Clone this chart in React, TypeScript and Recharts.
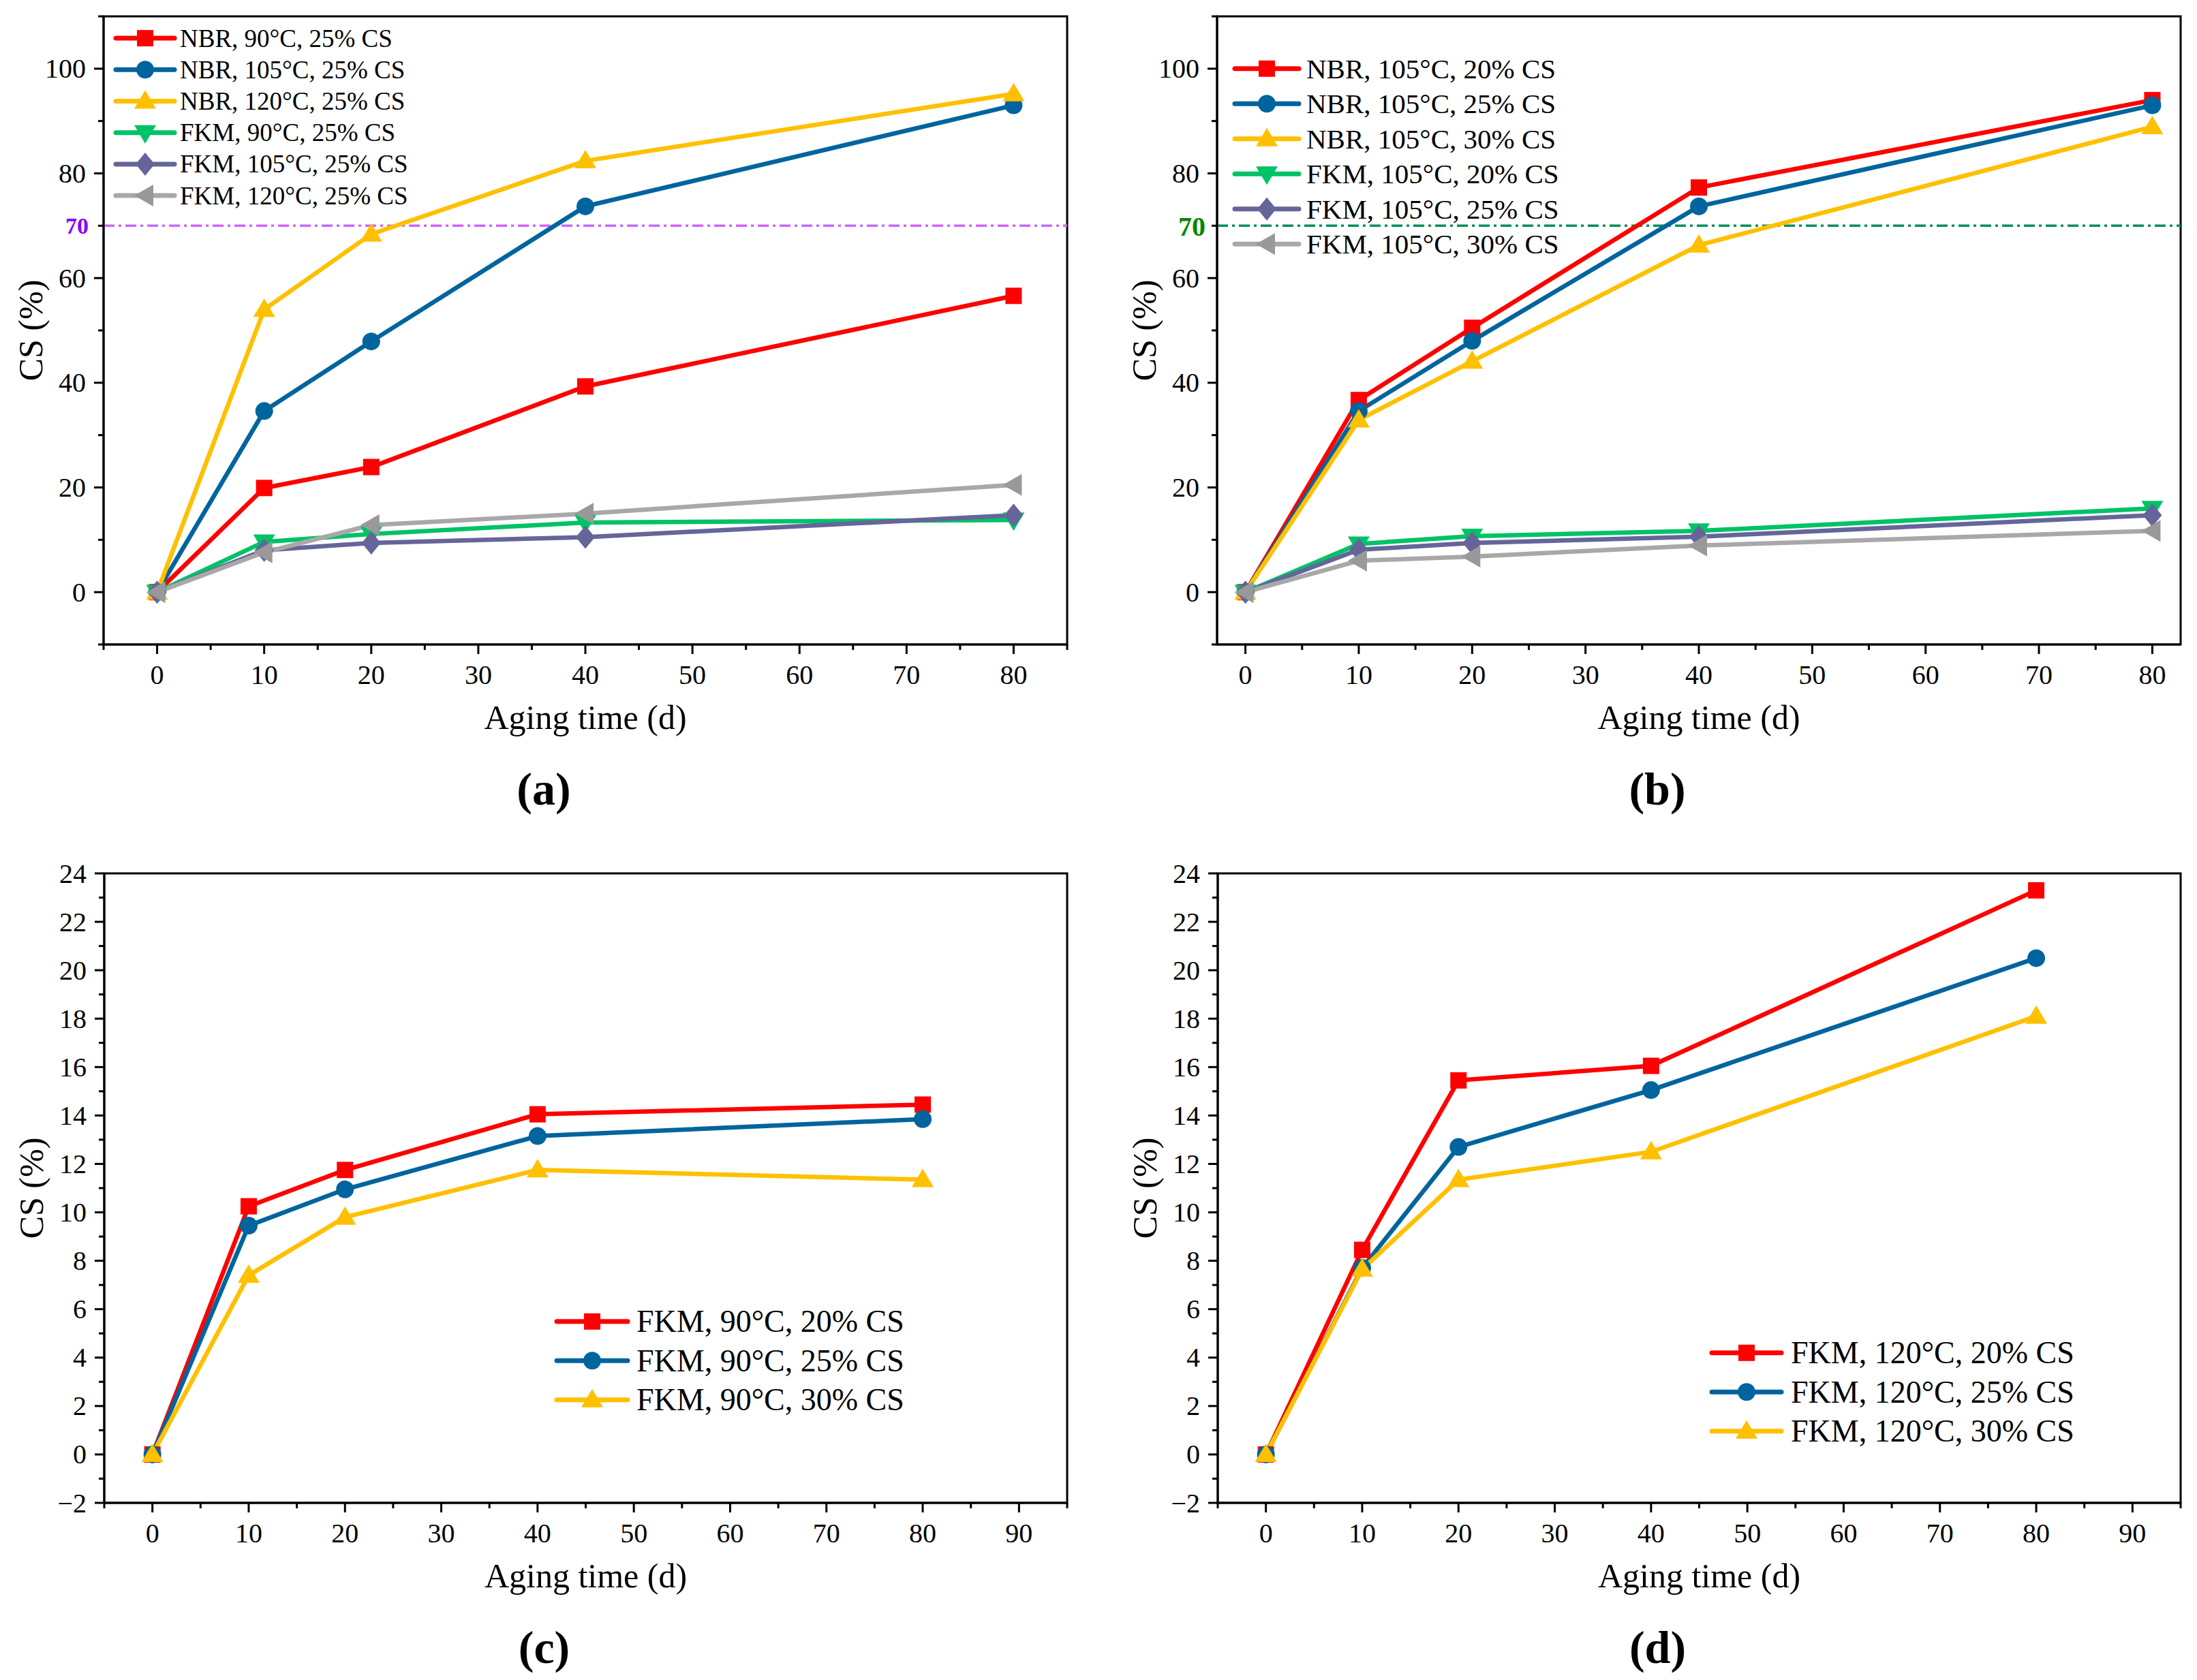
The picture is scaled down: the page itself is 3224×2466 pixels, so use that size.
import {
  LineChart,
  Line,
  XAxis,
  YAxis,
  ReferenceLine,
  ReferenceArea,
  Legend,
  Label,
} from 'recharts';

const FONT = '"Liberation Serif", "Times New Roman", serif';

// aging time (d)
const DAYS = [0, 10, 20, 40, 80];

// (a) 25% CS at different temperatures
const A_NBR_90 = [0, 19.9, 23.9, 39.3, 56.6];
const A_NBR_105 = [0, 34.6, 47.9, 73.7, 93.0];
const A_NBR_120 = [0, 54.0, 68.4, 82.4, 95.2];
const A_FKM_90 = [0, 9.6, 11.1, 13.3, 13.8];
const A_FKM_105 = [0, 8.0, 9.4, 10.5, 14.7];
const A_FKM_120 = [0, 7.6, 12.8, 15.0, 20.5];
const A_NAMES = [
  'NBR, 90°C, 25% CS',
  'NBR, 105°C, 25% CS',
  'NBR, 120°C, 25% CS',
  'FKM, 90°C, 25% CS',
  'FKM, 105°C, 25% CS',
  'FKM, 120°C, 25% CS',
];

// (b) 105°C at different compression ratios
const B_NBR_20 = [0, 36.7, 50.5, 77.3, 94.0];
const B_NBR_25 = [0, 34.6, 48.0, 73.7, 93.0];
const B_NBR_30 = [0, 32.9, 44.1, 66.3, 88.9];
const B_FKM_20 = [0, 9.2, 10.7, 11.7, 16.0];
const B_FKM_25 = [0, 8.1, 9.4, 10.6, 14.7];
const B_FKM_30 = [0, 6.0, 6.8, 8.9, 11.7];
const B_NAMES = [
  'NBR, 105°C, 20% CS',
  'NBR, 105°C, 25% CS',
  'NBR, 105°C, 30% CS',
  'FKM, 105°C, 20% CS',
  'FKM, 105°C, 25% CS',
  'FKM, 105°C, 30% CS',
];

// (c) FKM 90°C
const C_20 = [0, 10.25, 11.75, 14.05, 14.45];
const C_25 = [0, 9.45, 10.95, 13.15, 13.85];
const C_30 = [0, 7.4, 9.8, 11.75, 11.35];
const C_NAMES = ['FKM, 90°C, 20% CS', 'FKM, 90°C, 25% CS', 'FKM, 90°C, 30% CS'];

// (d) FKM 120°C
const D_20 = [0, 8.45, 15.45, 16.05, 23.3];
const D_25 = [0, 7.7, 12.7, 15.05, 20.5];
const D_30 = [0, 7.65, 11.35, 12.5, 18.1];
const D_NAMES = ['FKM, 120°C, 20% CS', 'FKM, 120°C, 25% CS', 'FKM, 120°C, 30% CS'];

// axis ticks
const X_TICKS_AB = [-5, 0, 5, 10, 15, 20, 25, 30, 35, 40, 45, 50, 55, 60, 65, 70, 75, 80, 85];
const X_TICKS_B = [0, 5, 10, 15, 20, 25, 30, 35, 40, 45, 50, 55, 60, 65, 70, 75, 80];
const X_LABELS_AB = [0, 10, 20, 30, 40, 50, 60, 70, 80];
const X_TICKS_CD = [-5, 0, 5, 10, 15, 20, 25, 30, 35, 40, 45, 50, 55, 60, 65, 70, 75, 80, 85, 90, 95];
const X_LABELS_CD = [0, 10, 20, 30, 40, 50, 60, 70, 80, 90];
const Y_TICKS_AB = [-10, 0, 10, 20, 30, 40, 50, 60, 70, 80, 90, 100, 110];
const Y_LABELS_AB = [0, 20, 40, 60, 80, 100];
const Y_TICKS_CD = [-2, -1, 0, 1, 2, 3, 4, 5, 6, 7, 8, 9, 10, 11, 12, 13, 14, 15, 16, 17, 18, 19, 20, 21, 22, 23, 24];
const Y_LABELS_CD = [-2, 0, 2, 4, 6, 8, 10, 12, 14, 16, 18, 20, 22, 24];

const RED = '#FF0000';
const BLUE = '#00649E';
const YELLOW = '#FFC000';
const GREEN = '#00C266';
const PURPLE = '#65659A';
const GREY = '#A8A8A8';

type Shape = 'square' | 'circle' | 'up' | 'down' | 'diamond' | 'left';
type Series = { key: string; name: string; color: string; marker: string; shape: Shape; values: number[] };

const STYLES: { color: string; marker: string; shape: Shape }[] = [
  { color: RED, marker: RED, shape: 'square' },
  { color: BLUE, marker: BLUE, shape: 'circle' },
  { color: YELLOW, marker: YELLOW, shape: 'up' },
  { color: GREEN, marker: GREEN, shape: 'down' },
  { color: PURPLE, marker: PURPLE, shape: 'diamond' },
  { color: GREY, marker: '#999999', shape: 'left' },
];

function makeSeries(names: string[], values: number[][]): Series[] {
  return names.map((name, i) => ({ key: 's' + i, name, values: values[i], ...STYLES[i] }));
}

function makeRows(series: Series[]) {
  return DAYS.map((day, i) => {
    const row: Record<string, number> = { day };
    series.forEach((s) => (row[s.key] = s.values[i]));
    return row;
  });
}

function Marker({ shape, cx, cy, color }: { shape: Shape; cx: number; cy: number; color: string }) {
  switch (shape) {
    case 'square':
      return <rect x={cx - 12} y={cy - 12} width={24} height={24} fill={color} />;
    case 'circle':
      return <circle cx={cx} cy={cy} r={13} fill={color} />;
    case 'up':
      return <polygon points={`${cx},${cy - 16} ${cx + 16},${cy + 11} ${cx - 16},${cy + 11}`} fill={color} />;
    case 'down':
      return <polygon points={`${cx - 16},${cy - 11} ${cx + 16},${cy - 11} ${cx},${cy + 16}`} fill={color} />;
    case 'diamond':
      return <polygon points={`${cx},${cy - 17} ${cx + 14},${cy} ${cx},${cy + 17} ${cx - 14},${cy}`} fill={color} />;
    default:
      return <polygon points={`${cx - 16},${cy} ${cx + 12},${cy - 16} ${cx + 12},${cy + 16}`} fill={color} />;
  }
}

const fmt = (v: number) => (v < 0 ? '−' + Math.abs(v) : String(v));

const xTick = (labels: number[]) => (p: any) => {
  const v = p.payload.value;
  const major = labels.includes(v);
  return (
    <g key={'xt' + v}>
      <line x1={p.x} x2={p.x} y1={p.y} y2={p.y + (major ? 14 : 8)} stroke="#000" strokeWidth={3} />
      {major && (
        <text x={p.x} y={p.y + 44} textAnchor="middle" dominantBaseline="central" fontSize={40} fontFamily={FONT} fill="#000">
          {fmt(v)}
        </text>
      )}
    </g>
  );
};

const yTick = (labels: number[]) => (p: any) => {
  const v = p.payload.value;
  const major = labels.includes(v);
  return (
    <g key={'yt' + v}>
      <line x1={p.x} x2={p.x - (major ? 14 : 8)} y1={p.y} y2={p.y} stroke="#000" strokeWidth={3} />
      {major && (
        <text x={p.x - 26} y={p.y} textAnchor="end" dominantBaseline="central" fontSize={40} fontFamily={FONT} fill="#000">
          {fmt(v)}
        </text>
      )}
    </g>
  );
};

type LegendCfg = { left: number; firstY: number; rowH: number; lineLen: number; textX: number; fontSize: number };

function legendContent(series: Series[], cfg: LegendCfg) {
  return () => (
    <svg width={560} height={series.length * cfg.rowH} style={{ display: 'block', overflow: 'visible' }}>
      {series.map((s, i) => {
        const cy = cfg.rowH * (i + 0.5);
        return (
          <g key={s.key}>
            <line x1={3} x2={cfg.lineLen - 3} y1={cy} y2={cy} stroke={s.color} strokeWidth={7} strokeLinecap="round" />
            <Marker shape={s.shape} cx={cfg.lineLen / 2} cy={cy} color={s.marker} />
            <text x={cfg.textX} y={cy} dominantBaseline="central" fontSize={cfg.fontSize} fontFamily={FONT} fill="#000">
              {s.name}
            </text>
          </g>
        );
      })}
    </svg>
  );
}

type PanelProps = {
  left: number;
  top: number;
  letter: string;
  series: Series[];
  margin: { top: number; right: number; bottom: number; left: number };
  xDomain: [number, number];
  xTicks: number[];
  xLabels: number[];
  yDomain: [number, number];
  yTicks: number[];
  yLabels: number[];
  legend: LegendCfg;
  refLine?: { color: string; labelColor: string; fontSize: number; offset: number };
};

function Panel(props: PanelProps) {
  const { series, margin, legend } = props;
  const data = makeRows(series);
  return (
    <div style={{ position: 'absolute', left: props.left, top: props.top }}>
      <LineChart width={1612} height={1233} data={data} margin={margin}>
        <ReferenceArea
          x1={props.xDomain[0]}
          x2={props.xDomain[1]}
          y1={props.yDomain[0]}
          y2={props.yDomain[1]}
          fill="none"
          fillOpacity={0}
          stroke="#000"
          strokeWidth={3}
          strokeOpacity={1}
        />
        <XAxis
          type="number"
          dataKey="day"
          domain={props.xDomain}
          ticks={props.xTicks}
          interval={0}
          tickSize={0}
          tickMargin={0}
          tickLine={false}
          height={100}
          axisLine={{ stroke: '#000', strokeWidth: 3 }}
          tick={xTick(props.xLabels)}
        >
          <Label
            content={(p: any) => (
              <text
                x={p.viewBox.x + p.viewBox.width / 2}
                y={p.viewBox.y + 107}
                textAnchor="middle"
                dominantBaseline="central"
                fontSize={50}
                fontFamily={FONT}
                fill="#000"
              >
                Aging time (d)
              </text>
            )}
          />
          <Label
            content={(p: any) => (
              <text
                x={p.viewBox.x + p.viewBox.width / 2 - 61}
                y={p.viewBox.y + 212}
                textAnchor="middle"
                dominantBaseline="central"
                fontSize={68}
                fontWeight="bold"
                fontFamily={FONT}
                fill="#000"
              >
                {props.letter}
              </text>
            )}
          />
        </XAxis>
        <YAxis
          type="number"
          domain={props.yDomain}
          ticks={props.yTicks}
          interval={0}
          tickSize={0}
          tickMargin={0}
          tickLine={false}
          width={100}
          axisLine={{ stroke: '#000', strokeWidth: 3 }}
          tick={yTick(props.yLabels)}
        >
          <Label
            content={(p: any) => {
              const cx = p.viewBox.x + p.viewBox.width - 107;
              const cy = p.viewBox.y + p.viewBox.height / 2;
              return (
                <text
                  x={cx}
                  y={cy}
                  transform={`rotate(-90 ${cx} ${cy})`}
                  textAnchor="middle"
                  dominantBaseline="central"
                  fontSize={50}
                  fontFamily={FONT}
                  fill="#000"
                >
                  CS (%)
                </text>
              );
            }}
          />
        </YAxis>
        {props.refLine && (
          <ReferenceLine
            y={70}
            stroke={props.refLine.color}
            strokeWidth={3.5}
            strokeDasharray="16 6 4 6"
            label={{
              value: '70',
              position: 'left',
              offset: props.refLine.offset,
              fill: props.refLine.labelColor,
              fontSize: props.refLine.fontSize,
              fontWeight: 'bold',
              fontFamily: FONT,
            }}
          />
        )}
        {series.map((s) => (
          <Line
            key={s.key}
            type="linear"
            dataKey={s.key}
            name={s.name}
            stroke={s.color}
            strokeWidth={6.5}
            isAnimationActive={false}
            activeDot={false}
            dot={(p: any) => <Marker key={s.key + '-' + p.index} shape={s.shape} cx={p.cx} cy={p.cy} color={s.marker} />}
          />
        ))}
        <Legend
          layout="vertical"
          align="center"
          verticalAlign="middle"
          content={legendContent(series, legend)}
          wrapperStyle={{
            left: legend.left,
            top: legend.firstY - legend.rowH / 2,
            width: 560,
            height: series.length * legend.rowH,
          }}
        />
      </LineChart>
    </div>
  );
}

const SERIES_A = makeSeries(A_NAMES, [A_NBR_90, A_NBR_105, A_NBR_120, A_FKM_90, A_FKM_105, A_FKM_120]);
const SERIES_B = makeSeries(B_NAMES, [B_NBR_20, B_NBR_25, B_NBR_30, B_FKM_20, B_FKM_25, B_FKM_30]);
const SERIES_C = makeSeries(C_NAMES, [C_20, C_25, C_30]);
const SERIES_D = makeSeries(D_NAMES, [D_20, D_25, D_30]);

export default function App() {
  return (
    <div style={{ position: 'absolute', left: 0, top: 0, width: 3224, height: 2466, background: '#fff' }}>
      <Panel
        left={0}
        top={0}
        letter="(a)"
        series={SERIES_A}
        margin={{ top: 24, right: 46, bottom: 187, left: 52 }}
        xDomain={[-5, 85]}
        xTicks={X_TICKS_AB}
        xLabels={X_LABELS_AB}
        yDomain={[-10, 110]}
        yTicks={Y_TICKS_AB}
        yLabels={Y_LABELS_AB}
        legend={{ left: 167, firstY: 56, rowH: 46.2, lineLen: 92, textX: 97, fontSize: 37 }}
        refLine={{ color: '#CC66FF', labelColor: '#8800FF', fontSize: 34, offset: 22 }}
      />
      <Panel
        left={1612}
        top={0}
        letter="(b)"
        series={SERIES_B}
        margin={{ top: 24, right: 24, bottom: 187, left: 74 }}
        xDomain={[-2.5, 82.5]}
        xTicks={X_TICKS_B}
        xLabels={X_LABELS_AB}
        yDomain={[-10, 110]}
        yTicks={Y_TICKS_AB}
        yLabels={Y_LABELS_AB}
        legend={{ left: 197, firstY: 100.5, rowH: 51.5, lineLen: 100, textX: 108, fontSize: 41 }}
        refLine={{ color: '#00905A', labelColor: '#008800', fontSize: 40, offset: 17 }}
      />
      <Panel
        left={0}
        top={1233}
        letter="(c)"
        series={SERIES_C}
        margin={{ top: 49, right: 46, bottom: 160, left: 53 }}
        xDomain={[-5, 95]}
        xTicks={X_TICKS_CD}
        xLabels={X_LABELS_CD}
        yDomain={[-2, 24]}
        yTicks={Y_TICKS_CD}
        yLabels={Y_LABELS_CD}
        legend={{ left: 814, firstY: 707, rowH: 57.5, lineLen: 110, textX: 120, fontSize: 46 }}
      />
      <Panel
        left={1612}
        top={1233}
        letter="(d)"
        series={SERIES_D}
        margin={{ top: 49, right: 24, bottom: 160, left: 75 }}
        xDomain={[-5, 95]}
        xTicks={X_TICKS_CD}
        xLabels={X_LABELS_CD}
        yDomain={[-2, 24]}
        yTicks={Y_TICKS_CD}
        yLabels={Y_LABELS_CD}
        legend={{ left: 897, firstY: 753, rowH: 57.5, lineLen: 108, textX: 119, fontSize: 46 }}
      />
    </div>
  );
}
